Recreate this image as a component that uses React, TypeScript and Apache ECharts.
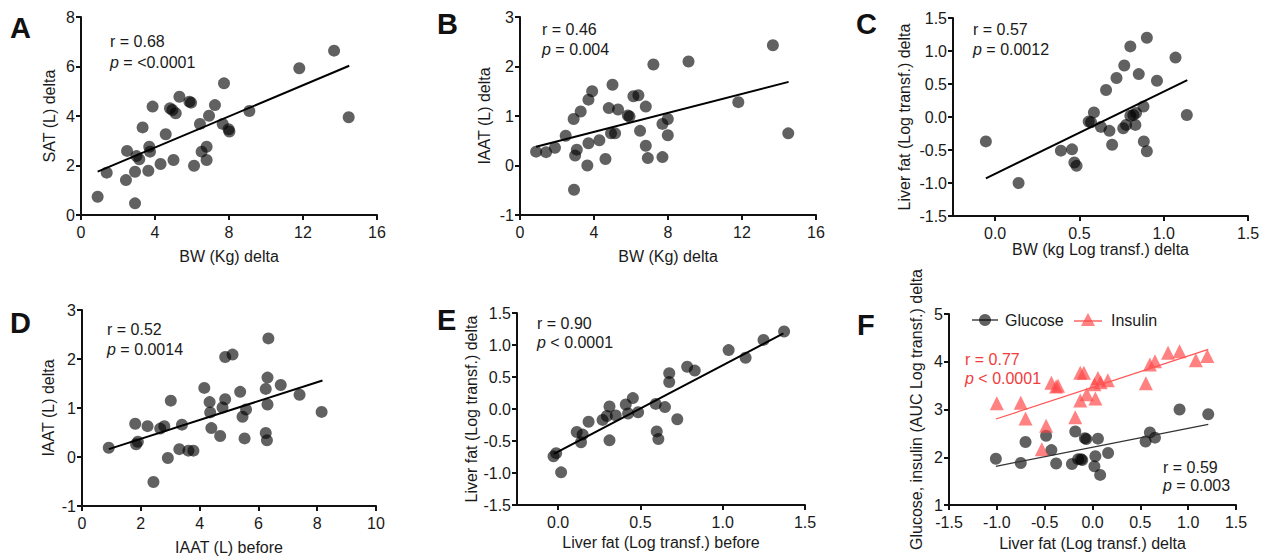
import { useEffect, useRef } from 'react';
import * as echarts from 'echarts';

const FONT = '"Liberation Sans", Arial, Helvetica, sans-serif';

// Panel A: BW delta vs SAT delta
const aX = [0.9, 1.39, 2.43, 2.49, 2.92, 2.92, 3.0, 3.15, 3.33, 3.64, 3.69, 3.73, 3.87, 4.3, 4.58, 4.81, 4.94, 5.0, 5.12, 5.32, 5.86, 5.95, 6.11, 6.43, 6.52, 6.79, 6.79, 6.92, 7.24, 7.73, 7.66, 7.98, 8.02, 9.1, 11.8, 13.68, 14.47];
const aY = [0.74, 1.71, 1.41, 2.59, 0.47, 1.75, 2.38, 2.25, 3.54, 1.79, 2.76, 2.56, 4.38, 2.06, 3.26, 4.31, 4.24, 2.22, 4.11, 4.78, 4.58, 4.54, 1.99, 3.68, 2.56, 2.76, 2.22, 4.01, 4.44, 5.32, 3.68, 3.46, 3.37, 4.2, 5.93, 6.64, 3.95];
const aFit = [[0.9, 1.75], [14.5, 6.03]];

// Panel B: BW delta vs IAAT delta
const bX = [0.87, 1.41, 1.89, 2.47, 2.9, 2.98, 3.07, 2.92, 3.28, 3.64, 3.7, 3.7, 3.9, 4.29, 4.62, 4.8, 5.0, 4.92, 5.14, 5.3, 5.83, 5.92, 6.13, 6.4, 6.49, 6.8, 6.8, 6.91, 7.21, 7.7, 7.7, 7.99, 7.99, 9.11, 11.8, 13.67, 14.5];
const bY = [0.28, 0.27, 0.36, 0.6, 0.94, 0.2, 0.32, -0.49, 1.09, 0.0, 1.33, 0.45, 1.5, 0.51, 0.13, 1.16, 1.63, 0.65, 0.65, 1.13, 1.01, 0.99, 1.4, 1.42, 0.7, 1.19, 0.4, 0.15, 2.04, 0.17, 0.84, 0.94, 0.61, 2.1, 1.28, 2.43, 0.65];
const bFit = [[0.87, 0.38], [14.52, 1.69]];

// Panel C: BW (log) delta vs liver fat (log) delta
const cX = [-0.055, 0.139, 0.39, 0.456, 0.47, 0.483, 0.555, 0.569, 0.586, 0.628, 0.658, 0.678, 0.694, 0.72, 0.766, 0.76, 0.777, 0.802, 0.802, 0.82, 0.832, 0.836, 0.852, 0.88, 0.882, 0.9, 0.9, 0.96, 1.07, 1.137];
const cY = [-0.37, -1.0, -0.51, -0.49, -0.69, -0.74, -0.07, -0.08, 0.07, -0.15, 0.41, -0.21, -0.42, 0.59, 0.78, -0.17, -0.12, 1.07, 0.02, 0.03, -0.12, 0.06, 0.65, 0.16, -0.37, -0.52, 1.2, 0.55, 0.9, 0.03];
const cFit = [[-0.055, -0.93], [1.14, 0.56]];

// Panel D: IAAT before vs IAAT delta
const dX = [0.91, 1.81, 1.84, 1.9, 2.23, 2.43, 2.66, 2.8, 2.92, 3.02, 3.31, 3.4, 3.62, 3.79, 4.16, 4.34, 4.36, 4.4, 4.7, 4.78, 4.87, 4.87, 5.12, 5.38, 5.46, 5.53, 5.58, 6.25, 6.25, 6.29, 6.31, 6.31, 6.34, 6.76, 7.4, 8.15];
const dY = [0.19, 0.68, 0.26, 0.31, 0.63, -0.51, 0.58, 0.63, -0.02, 1.15, 0.16, 0.66, 0.13, 0.13, 1.41, 1.12, 0.91, 0.59, 0.43, 1.01, 1.18, 2.04, 2.09, 1.33, 0.82, 0.38, 0.97, 0.49, 1.39, 0.34, 1.07, 1.62, 2.42, 1.47, 1.27, 0.92];
const dFit = [[0.91, 0.16], [8.18, 1.56]];

// Panel E: liver fat before vs liver fat delta
const eX = [-0.028, -0.012, 0.018, 0.113, 0.139, 0.149, 0.185, 0.27, 0.296, 0.312, 0.312, 0.35, 0.411, 0.425, 0.454, 0.486, 0.593, 0.599, 0.609, 0.649, 0.675, 0.675, 0.724, 0.784, 0.83, 1.036, 1.139, 1.248, 1.373];
const eY = [-0.74, -0.69, -0.99, -0.36, -0.52, -0.4, -0.2, -0.17, -0.11, 0.04, -0.49, -0.1, 0.07, -0.07, 0.17, -0.05, 0.08, -0.35, -0.47, 0.03, 0.42, 0.56, -0.16, 0.66, 0.6, 0.92, 0.8, 1.08, 1.21];
const eFit = [[-0.026, -0.7], [1.369, 1.18]];

// Panel F: liver fat delta vs glucose / insulin AUC
const fGluX = [-1.01, -0.75, -0.7, -0.485, -0.43, -0.38, -0.215, -0.18, -0.15, -0.12, -0.107, -0.08, -0.065, 0.057, 0.03, 0.02, 0.08, 0.163, 0.555, 0.6, 0.653, 0.91, 1.21];
const fGluY = [1.97, 1.88, 2.32, 2.45, 2.15, 1.87, 1.86, 2.54, 1.96, 1.96, 1.94, 2.4, 2.38, 2.39, 2.02, 1.81, 1.63, 2.09, 2.33, 2.52, 2.41, 3.0, 2.9];
const fGluFit = [[-1.01, 1.81], [1.21, 2.69]];
const fInsX = [-1.0, -0.75, -0.7, -0.485, -0.53, -0.43, -0.38, -0.36, -0.18, -0.128, -0.09, -0.128, -0.06, 0.03, 0.02, 0.057, 0.085, 0.16, 0.558, 0.6, 0.653, 0.79, 0.91, 1.08, 1.2];
const fInsY = [3.13, 3.14, 2.81, 2.66, 2.17, 3.56, 3.48, 3.5, 2.84, 3.77, 3.77, 3.19, 3.32, 3.23, 3.53, 3.66, 3.57, 3.61, 3.55, 3.94, 4.01, 4.19, 4.22, 4.03, 4.12];
const fInsFit = [[-1.01, 2.8], [1.21, 4.26]];

const legendNames = ['Glucose', 'Insulin'];

const GRAY = 'rgba(0,0,0,0.62)';
const RED_FILL = 'rgba(255,70,70,0.68)';
const RED = '#f03c3c';
const INK = '#1a1a1a';

const zip = (xs: number[], ys: number[]) => xs.map((x, i) => [x, ys[i]]);
const fix1 = (v: number) => (Math.abs(v) < 1e-9 ? 0 : v).toFixed(1);

const grids = [
  { left: 81, top: 17, width: 296, height: 198 },
  { left: 520, top: 17, width: 296, height: 198 },
  { left: 953, top: 18, width: 295, height: 198 },
  { left: 82, top: 310, width: 294, height: 197 },
  { left: 517, top: 313, width: 288, height: 192 },
  { left: 949, top: 314, width: 287, height: 191 },
];

function axisBase(gridIndex: number, isX: boolean) {
  return {
    gridIndex,
    type: 'value',
    axisLine: { show: true, onZero: false, lineStyle: { color: '#111', width: 2 } },
    axisTick: { show: true, inside: false, length: 5, lineStyle: { color: '#111', width: 2 } },
    splitLine: { show: false },
    axisLabel: { color: INK, fontSize: 16, fontFamily: FONT, margin: isX ? 9 : 6 },
    nameLocation: 'middle',
    nameTextStyle: { color: INK, fontSize: 16, fontFamily: FONT },
  };
}

const customTicks = [0, 0.5, 1, 1.5];

const xAxes = [
  { ...axisBase(0, true), min: 0, max: 16, interval: 4, name: 'BW (Kg) delta', nameGap: 33 },
  { ...axisBase(1, true), min: 0, max: 16, interval: 4, name: 'BW (Kg) delta', nameGap: 33 },
  {
    ...axisBase(2, true), min: -0.25, max: 1.5, name: 'BW (kg Log transf.) delta', nameGap: 24,
    axisLabel: { ...axisBase(2, true).axisLabel, customValues: customTicks, formatter: fix1 },
    axisTick: { ...axisBase(2, true).axisTick, customValues: customTicks },
  },
  { ...axisBase(3, true), min: 0, max: 10, interval: 2, name: 'IAAT (L) before', nameGap: 33 },
  {
    ...axisBase(4, true), min: -0.25, max: 1.5, name: 'Liver fat (Log transf.) before', nameGap: 29,
    axisLabel: { ...axisBase(4, true).axisLabel, customValues: customTicks, formatter: fix1 },
    axisTick: { ...axisBase(4, true).axisTick, customValues: customTicks },
  },
  {
    ...axisBase(5, true), min: -1.5, max: 1.5, interval: 0.5, name: 'Liver fat (Log transf.) delta', nameGap: 30,
    axisLabel: { ...axisBase(5, true).axisLabel, formatter: fix1 },
  },
];

const yAxes = [
  { ...axisBase(0, false), min: 0, max: 8, interval: 2, name: 'SAT (L) delta', nameGap: 24 },
  { ...axisBase(1, false), min: -1, max: 3, interval: 1, name: 'IAAT (L) delta', nameGap: 28 },
  {
    ...axisBase(2, false), min: -1.5, max: 1.5, interval: 0.5, name: 'Liver fat (Log transf.) delta', nameGap: 41,
    axisLabel: { ...axisBase(2, false).axisLabel, formatter: fix1 },
  },
  { ...axisBase(3, false), min: -1, max: 3, interval: 1, name: 'IAAT (L) delta', nameGap: 26 },
  {
    ...axisBase(4, false), min: -1.5, max: 1.5, interval: 0.5, name: 'Liver fat (Log transf.) delta', nameGap: 38,
    axisLabel: { ...axisBase(4, false).axisLabel, formatter: fix1 },
  },
  { ...axisBase(5, false), min: 1, max: 5, interval: 1, name: 'Glucose, insulin (AUC Log transf.) delta', nameGap: 25 },
];

function scatter(i: number, xs: number[], ys: number[], color: string, symbol = 'circle', size = 12, name?: string) {
  return {
    type: 'scatter', name, xAxisIndex: i, yAxisIndex: i, data: zip(xs, ys),
    symbol, symbolSize: size, itemStyle: { color, opacity: 1 }, z: 2, silent: true,
  };
}
function fit(i: number, pts: number[][], color = '#000', width = 2) {
  return {
    type: 'line', xAxisIndex: i, yAxisIndex: i, data: pts, symbol: 'none',
    lineStyle: { color, width }, z: 3, silent: true,
  };
}

const series = [
  scatter(0, aX, aY, GRAY), fit(0, aFit),
  scatter(1, bX, bY, GRAY), fit(1, bFit),
  scatter(2, cX, cY, GRAY), fit(2, cFit),
  scatter(3, dX, dY, GRAY), fit(3, dFit),
  scatter(4, eX, eY, GRAY), fit(4, eFit),
  scatter(5, fGluX, fGluY, GRAY, 'circle', 12, legendNames[0]), fit(5, fGluFit, '#333', 1.2),
  scatter(5, fInsX, fInsY, RED_FILL, 'triangle', 14, legendNames[1]), fit(5, fInsFit, '#f55', 1.2),
];

function letter(t: string, x: number, y: number) {
  return {
    type: 'text', z: 10,
    style: { text: t, x, y, fill: '#111', fontSize: 29, fontWeight: 'bold', fontFamily: FONT, verticalAlign: 'middle' },
  };
}
function note(t: string, x: number, y: number, color = INK) {
  return {
    type: 'text', z: 10,
    style: {
      text: t, x, y, fill: color, fontSize: 16, fontFamily: FONT, verticalAlign: 'middle',
      rich: { i: { fontStyle: 'italic', fontSize: 16, fontFamily: FONT, fill: color } },
    },
  };
}

const graphic = [
  letter('A', 10, 28), letter('B', 437, 24), letter('C', 856, 24),
  letter('D', 10, 323), letter('E', 437, 320), letter('F', 857, 325),
  note('r = 0.68', 110, 41), note('{i|p} = <0.0001', 110, 62),
  note('r = 0.46', 542, 29), note('{i|p} = 0.004', 542, 49),
  note('r = 0.57', 973, 29), note('{i|p} = 0.0012', 973, 49),
  note('r = 0.52', 107, 329), note('{i|p} = 0.0014', 107, 349),
  note('r = 0.90', 537, 323), note('{i|p} < 0.0001', 537, 342),
  note('r = 0.77', 965, 359, RED), note('{i|p} < 0.0001', 965, 378, RED),
  note('r = 0.59', 1163, 467), note('{i|p} = 0.003', 1163, 485),
  // legend for panel F
  { type: 'line', z: 10, shape: { x1: 972, y1: 320, x2: 998, y2: 320 }, style: { stroke: '#444', lineWidth: 1.5 } },
  { type: 'circle', z: 11, shape: { cx: 985, cy: 320, r: 6 }, style: { fill: GRAY } },
  { type: 'text', z: 10, style: { text: legendNames[0], x: 1005, y: 320, fill: INK, fontSize: 16, fontFamily: FONT, verticalAlign: 'middle' } },
  { type: 'line', z: 10, shape: { x1: 1074, y1: 321, x2: 1102, y2: 321 }, style: { stroke: '#f66', lineWidth: 1.5 } },
  { type: 'polygon', z: 11, shape: { points: [[1088, 313], [1081, 326], [1095, 326]] }, style: { fill: RED_FILL } },
  { type: 'text', z: 10, style: { text: legendNames[1], x: 1111, y: 320, fill: INK, fontSize: 16, fontFamily: FONT, verticalAlign: 'middle' } },
];

const option = {
  animation: false,
  backgroundColor: '#fff',
  textStyle: { fontFamily: FONT },
  grid: grids,
  xAxis: xAxes,
  yAxis: yAxes,
  series,
  graphic,
};

export default function App() {
  const ref = useRef<HTMLDivElement>(null);
  useEffect(() => {
    const chart = echarts.init(ref.current as HTMLDivElement, null, { renderer: 'svg' });
    chart.setOption(option as any);
    return () => chart.dispose();
  }, []);
  return (
    <div
      ref={ref}
      style={{ position: 'fixed', left: 0, top: 0, width: 1266, height: 556, background: '#fff' }}
    />
  );
}
